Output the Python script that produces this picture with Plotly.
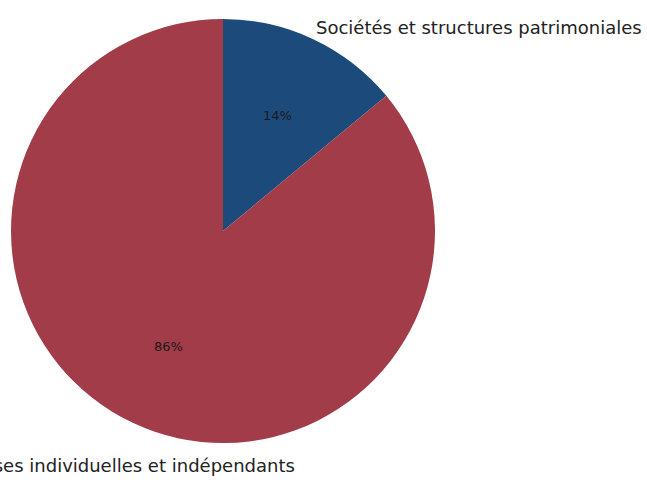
import math
import plotly.graph_objects as go

labels = ["Sociétés et structures patrimoniales", "Entreprises individuelles et indépendants"]
values = [14, 86]
colors = ["#1c4b7b", "#a13c48"]

W, H = 647, 484
cx, cy, r = 223, 231, 212

fig = go.Figure(go.Pie(
    labels=labels, values=values, sort=False, direction="clockwise", rotation=0,
    marker=dict(colors=colors, line=dict(width=0)),
    textinfo="none", hoverinfo="label+percent", showlegend=False,
    domain=dict(x=[(cx - r) / W, (cx + r) / W], y=[1 - (cy + r) / H, 1 - (cy - r) / H]),
))

total = sum(values)
annotations = []
start = 90.0
label_font = dict(family="DejaVu Sans", size=18, color="#222")
for lab, v in zip(labels, values):
    span = 360.0 * v / total
    mid = math.radians(start - span / 2)
    start -= span
    # percentage label at 0.6 r
    px = cx + 0.6 * r * math.cos(mid)
    py = cy - 0.6 * r * math.sin(mid)
    annotations.append(dict(
        x=px / W, y=1 - py / H, xref="paper", yref="paper", showarrow=False,
        text=f"{round(100 * v / total)}%", font=dict(family="DejaVu Sans", size=13, color="#1a1a1a"),
        xanchor="center", yanchor="middle"))
    # category label at 1.1 r
    lx = cx + 1.1 * r * math.cos(mid)
    ly = cy - 1.1 * r * math.sin(mid)
    if math.cos(mid) >= 0:
        annotations.append(dict(
            x=(lx - 8) / W, y=1 - (ly + 8) / H, xref="paper", yref="paper", showarrow=False,
            text=lab, font=label_font, xanchor="left", yanchor="middle"))
    else:
        annotations.append(dict(
            x=(lx + 173) / W, y=1 - (ly + 23) / H, xref="paper", yref="paper", showarrow=False,
            text=lab, font=label_font, xanchor="right", yanchor="middle"))

fig.update_layout(
    width=W, height=H, margin=dict(l=0, r=0, t=0, b=0),
    paper_bgcolor="white", plot_bgcolor="white",
    annotations=annotations,
)
fig.write_html("out.html")
